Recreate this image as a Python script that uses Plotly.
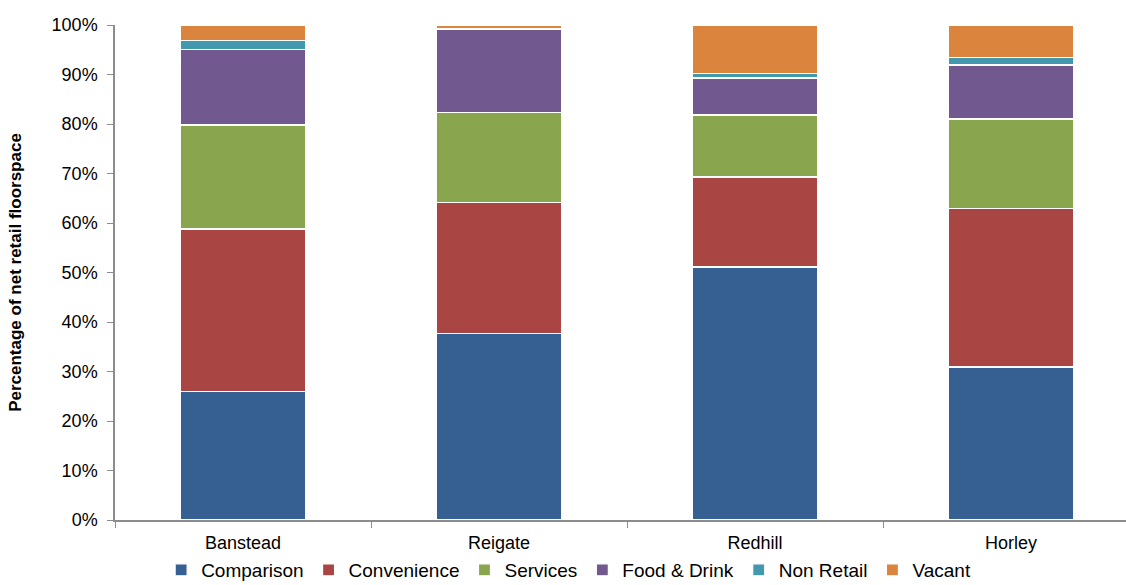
import plotly.graph_objects as go

towns = ["Banstead", "Reigate", "Redhill", "Horley"]

comparison = [25.9, 37.6, 51.1, 30.9]
convenience = [32.9, 26.6, 18.2, 32.1]
services = [21.0, 18.2, 12.5, 18.0]
food_drink = [15.2, 16.8, 7.5, 10.9]
non_retail = [1.8, 0.0, 0.9, 1.5]
vacant = [3.2, 0.8, 9.8, 6.6]

series = [
    ("Comparison", comparison, "#376092"),
    ("Convenience", convenience, "#A94644"),
    ("Services", services, "#89A54E"),
    ("Food & Drink", food_drink, "#71588F"),
    ("Non Retail", non_retail, "#4298AF"),
    ("Vacant", vacant, "#DB843D"),
]

fig = go.Figure()
for name, vals, color in series:
    fig.add_trace(go.Bar(
        x=towns, y=vals, name=name,
        marker=dict(color=color, line=dict(color="white", width=1.2)),
        width=0.49,
    ))

fig.update_layout(
    barmode="stack",
    width=1126, height=585,
    margin=dict(l=115, r=0, t=25, b=65, autoexpand=False),
    paper_bgcolor="white", plot_bgcolor="white",
    font=dict(family="Liberation Sans, Arial, sans-serif", color="black", size=18),
    legend=dict(orientation="h", xref="container", yref="paper",
                x=0.505, xanchor="center", y=-0.101, yanchor="middle",
                bgcolor="rgba(0,0,0,0)",
                font=dict(size=19), traceorder="normal", itemwidth=30,
                tracegroupgap=0),
    showlegend=True,
)
fig.update_xaxes(
    type="category", range=[-0.5, 3.449],
    showline=True, linecolor="#8C8C8C", linewidth=1.5,
    ticks="outside", tickson="boundaries", ticklen=6, tickcolor="#8C8C8C",
    tickfont=dict(size=18), ticklabelstandoff=6, showgrid=False,
    automargin=False,
)
fig.update_yaxes(
    range=[0, 100], tickvals=list(range(0, 101, 10)),
    ticktext=[f"{v}%" for v in range(0, 101, 10)],
    showline=True, linecolor="#8C8C8C", linewidth=1.5,
    ticks="outside", ticklen=6, tickcolor="#8C8C8C",
    tickfont=dict(size=18), ticklabelstandoff=6, showgrid=False, zeroline=False,
    automargin=False,
    title=dict(text="<b>Percentage of net retail floorspace</b>", font=dict(size=17), standoff=26),
)

fig.write_html("out.html")
